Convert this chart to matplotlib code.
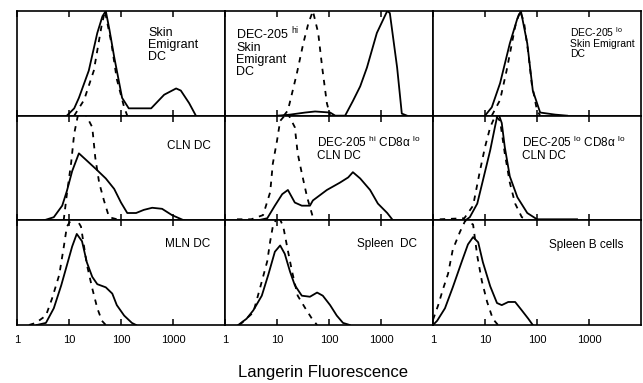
import numpy as np
import matplotlib.pyplot as plt

plt.rcParams['font.family'] = ['Liberation Sans', 'DejaVu Sans']
plt.rcParams['mathtext.fontset'] = 'custom'
plt.rcParams['mathtext.rm'] = 'Liberation Sans'
plt.rcParams['mathtext.it'] = 'Liberation Sans:italic'

# Langerin fluorescence (x) and relative cell number (y)
# solid = anti-Langerin, dashed = control
skin_x = [9.1, 12.6, 15.5, 24, 35, 44, 51, 60, 74, 105, 141, 380, 676, 1148, 1413, 2042, 2754]
skin_y = [0, 0.07, 0.17, 0.43, 0.79, 0.95, 1.0, 0.82, 0.56, 0.17, 0.07, 0.07, 0.2, 0.26, 0.24, 0.12, 0]
skin_cx = [12.6, 19.5, 30, 42, 49, 65, 83, 115, 132]
skin_cy = [0, 0.15, 0.43, 0.85, 1.0, 0.7, 0.35, 0.08, 0]

dechi_x = [10.5, 17.8, 35, 54, 105, 132, 204, 288, 398, 537, 832, 1318, 1479, 2042, 2512, 3162]
dechi_y = [0, 0.01, 0.03, 0.04, 0.03, 0, 0, 0.14, 0.28, 0.46, 0.79, 1.0, 0.98, 0.46, 0.02, 0]
dechi_cx = [13.5, 16.2, 24, 32, 40, 49, 62, 74, 91, 105]
dechi_cy = [0, 0.05, 0.4, 0.69, 0.88, 1.0, 0.79, 0.46, 0.12, 0]

declo_x = [10, 13.5, 19.5, 30, 42, 49, 65, 83, 115, 224, 380]
declo_y = [0, 0.08, 0.31, 0.69, 0.93, 1.0, 0.69, 0.24, 0.03, 0.01, 0]
declo_cx = [13.5, 19.5, 26, 38, 47, 56, 68, 79, 100, 115]
declo_cy = [0, 0.15, 0.43, 0.85, 1.0, 0.9, 0.6, 0.31, 0.05, 0]

cln_x = [3.3, 5.1, 7.4, 9.1, 11.5, 15.5, 21, 33, 51, 74, 100, 132, 195, 275, 398, 617, 955, 1622]
cln_y = [0, 0.03, 0.14, 0.28, 0.47, 0.64, 0.58, 0.49, 0.4, 0.3, 0.17, 0.07, 0.07, 0.1, 0.12, 0.11, 0.05, 0]
cln_cx = [7.9, 9.1, 11, 12.6, 14.8, 20, 28, 32, 38, 47, 59, 100]
cln_cy = [0, 0.25, 0.55, 0.83, 1.0, 1.03, 0.89, 0.6, 0.36, 0.19, 0.03, 0]

clnhi_x = [4.3, 6.5, 9.1, 12.6, 16.2, 22, 30, 43, 49, 91, 162, 234, 288, 398, 617, 871, 1318, 1698]
clnhi_y = [0, 0.02, 0.14, 0.25, 0.29, 0.17, 0.14, 0.14, 0.19, 0.29, 0.36, 0.41, 0.46, 0.4, 0.29, 0.16, 0.07, 0]
clnhi_cx = [1.7, 3.2, 5.4, 7.4, 8.3, 10, 11.5, 15.8, 22, 25, 30, 38, 49, 59]
clnhi_cy = [0.01, 0.01, 0.05, 0.27, 0.54, 0.76, 0.95, 1.03, 0.89, 0.64, 0.45, 0.22, 0.03, 0]

clnlo_x = [4.2, 5.1, 7.1, 9.1, 12.6, 15.5, 17.8, 21, 24, 30, 42, 65, 100, 589]
clnlo_y = [0, 0.03, 0.16, 0.38, 0.67, 0.89, 1.03, 0.93, 0.7, 0.42, 0.22, 0.07, 0.01, 0.01]
clnlo_cx = [1.35, 4.0, 5.9, 7.9, 10, 12.6, 15.8, 19.5, 24, 30, 38, 51, 74]
clnlo_cy = [0.01, 0.02, 0.14, 0.46, 0.7, 0.89, 1.0, 0.95, 0.64, 0.36, 0.16, 0.03, 0]

mln_x = [2.4, 3.6, 5.1, 7.1, 9.1, 11.5, 14.1, 17.8, 22, 28, 35, 51, 68, 83, 115, 162, 195]
mln_y = [0, 0.02, 0.16, 0.38, 0.57, 0.75, 0.87, 0.8, 0.6, 0.46, 0.39, 0.36, 0.3, 0.19, 0.09, 0.02, 0]
mln_cx = [1.7, 2.3, 3.6, 4.7, 6.5, 7.9, 9.1, 12.6, 17, 22, 28, 35, 43, 51]
mln_cy = [0, 0.02, 0.09, 0.25, 0.48, 0.74, 0.94, 1.05, 0.94, 0.58, 0.35, 0.16, 0.04, 0]

spl_x = [1.8, 2.6, 3.5, 5.1, 6.8, 9.1, 11.5, 14.1, 17.8, 22, 30, 43, 59, 76, 105, 141, 186, 251]
spl_y = [0, 0.06, 0.14, 0.28, 0.48, 0.7, 0.76, 0.68, 0.51, 0.38, 0.28, 0.27, 0.31, 0.28, 0.19, 0.09, 0.02, 0]
spl_cx = [1.9, 3.5, 4.7, 6.5, 7.4, 8.3, 10.5, 13.2, 16.2, 19.5, 25, 35, 47, 59]
spl_cy = [0, 0.12, 0.35, 0.61, 0.8, 0.94, 1.05, 0.94, 0.71, 0.51, 0.28, 0.16, 0.06, 0]

bcell_x = [1.0, 1.2, 1.7, 2.4, 3.6, 4.7, 5.9, 7.4, 9.1, 12.6, 17, 21, 28, 38, 51, 68, 83]
bcell_y = [0, 0.04, 0.16, 0.36, 0.61, 0.77, 0.84, 0.79, 0.6, 0.37, 0.21, 0.19, 0.22, 0.22, 0.14, 0.06, 0]
bcell_cx = [1.0, 1.26, 1.55, 1.95, 2.4, 3.3, 4.2, 5.9, 7.1, 8.7, 11, 14.1, 17.8]
bcell_cy = [0.05, 0.19, 0.34, 0.49, 0.72, 0.89, 1.0, 0.96, 0.66, 0.42, 0.22, 0.06, 0]

panels = [
    (skin_x, skin_y, skin_cx, skin_cy),
    (dechi_x, dechi_y, dechi_cx, dechi_cy),
    (declo_x, declo_y, declo_cx, declo_cy),
    (cln_x, cln_y, cln_cx, cln_cy),
    (clnhi_x, clnhi_y, clnhi_cx, clnhi_cy),
    (clnlo_x, clnlo_y, clnlo_cx, clnlo_cy),
    (mln_x, mln_y, mln_cx, mln_cy),
    (spl_x, spl_y, spl_cx, spl_cy),
    (bcell_x, bcell_y, bcell_cx, bcell_cy),
]

# label text, x, y (axes fraction), font size
labels = [
    ("Skin\nEmigrant\nDC", 0.63, 0.85, 9),
    ("DEC-205 $^{\\mathrm{hi}}$\nSkin\nEmigrant\nDC", 0.055, 0.86, 9),
    ("DEC-205 $^{\\mathrm{lo}}$\nSkin Emigrant\nDC", 0.66, 0.86, 7.5),
    ("CLN DC", 0.72, 0.77, 8.5),
    ("DEC-205 $^{\\mathrm{hi}}$ CD8\u03b1 $^{\\mathrm{lo}}$\nCLN DC", 0.44, 0.82, 8.5),
    ("DEC-205 $^{\\mathrm{lo}}$ CD8\u03b1 $^{\\mathrm{lo}}$\nCLN DC", 0.43, 0.82, 8.5),
    ("MLN DC", 0.71, 0.835, 8.5),
    ("Spleen  DC", 0.635, 0.835, 8.5),
    ("Spleen B cells", 0.56, 0.825, 8.5),
]

ticks = [1, 10, 100, 1000]
tick_labels = ["1", "10", "100", "1000"]

fig = plt.figure(figsize=(6.43, 3.83), dpi=100)
gs = fig.add_gridspec(3, 3, left=17/643, right=641/643, top=1 - 11/383,
                      bottom=58/383, hspace=0, wspace=0)

for i, (sx, sy, cx, cy) in enumerate(panels):
    r, c = divmod(i, 3)
    ax = fig.add_subplot(gs[r, c])
    ax.plot(cx, cy, color='black', lw=1.3, ls=(0, (3, 3.2)))
    ax.plot(sx, sy, color='black', lw=1.3)
    ax.set_xscale('log')
    ax.set_xlim(1, 10000)
    ax.set_ylim(0, 1.0)
    ax.set_yticks([])
    ax.set_xticks(ticks)
    ax.minorticks_off()
    ax.tick_params(axis='x', direction='in', top=True, length=4, width=1.1,
                   labelsize=8, pad=7)
    if r == 2:
        ax.set_xticklabels(tick_labels)
    else:
        ax.set_xticklabels([])
    for sp in ax.spines.values():
        sp.set_linewidth(1.2)
    txt, tx, ty, fs = labels[i]
    ax.text(tx, ty, txt, transform=ax.transAxes, fontsize=fs, va='top',
            ha='left', linespacing=1.0)

fig.text(323/643, 11/383, "Langerin Fluorescence", ha='center', va='center',
         fontsize=12)

fig.savefig("out.png", dpi=100)
